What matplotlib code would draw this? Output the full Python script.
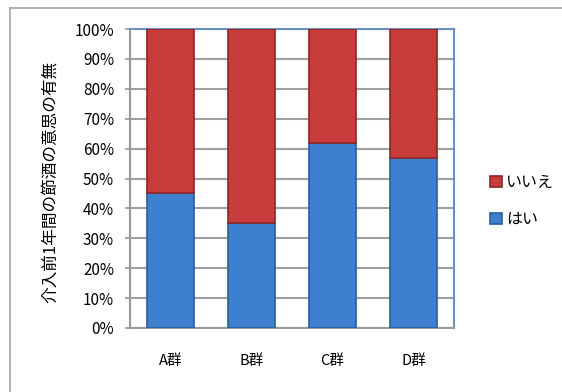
import matplotlib.pyplot as plt
from matplotlib.lines import Line2D

plt.rcParams['font.family'] = ['Noto Sans CJK JP', 'DejaVu Sans']

groups = ['A群', 'B群', 'C群', 'D群']
hai = [45, 35, 62, 57]
iie = [55, 65, 38, 43]
yticks = [0, 10, 20, 30, 40, 50, 60, 70, 80, 90, 100]

blue = '#3f7fcf'
red = '#c83c3c'

fig = plt.figure(figsize=(5.62, 3.92), dpi=100)
ax = fig.add_axes([130 / 562, 1 - 328 / 392, 324 / 562, 299 / 392])

# 外枠
fig.add_artist(Line2D([10 / 562, 10 / 562], [0, 1 - 8 / 392], color='#a6a6a6', lw=1.2))
fig.add_artist(Line2D([10 / 562, 1], [1 - 8 / 392, 1 - 8 / 392], color='#a6a6a6', lw=1.2))

x = range(len(groups))
ax.bar(x, hai, width=0.58, color=blue, edgecolor='#2a5d9e', linewidth=1.2, label='はい', zorder=3)
ax.bar(x, iie, width=0.58, bottom=hai, color=red, edgecolor='#8e2626', linewidth=1.2, label='いいえ', zorder=3)

ax.set_xlim(-0.5, len(groups) - 0.5)
ax.set_ylim(0, 100)
ax.set_yticks(yticks)
ax.set_yticklabels([f'{v}%' for v in yticks], fontsize=11)
ax.set_xticks(list(x))
ax.set_xticklabels(groups, fontsize=10.5)
ax.tick_params(axis='x', length=0, pad=19)
ax.tick_params(axis='y', length=3.5, width=1.2, color='#999999', pad=8, direction='out')
ax.yaxis.grid(True, color='#a0a0a0', linewidth=1.5, zorder=0)
ax.set_axisbelow(True)

ax.spines['left'].set_color('#999999')
ax.spines['left'].set_linewidth(1.5)
ax.spines['bottom'].set_color('#999999')
ax.spines['bottom'].set_linewidth(1.5)
ax.spines['top'].set_color('#6a8fc0')
ax.spines['top'].set_linewidth(1.5)
ax.spines['right'].set_color('#6a8fc0')
ax.spines['right'].set_linewidth(1.5)

fig.text(50 / 562, 1 - 182 / 392, '介入前1年間の節酒の意思の有無', rotation=90,
         ha='center', va='center', fontsize=12)

handles, labels = ax.get_legend_handles_labels()
ax.legend(handles[::-1], labels[::-1], loc='center left', bbox_to_anchor=(476 / 562, 1 - 201 / 392),
          bbox_transform=fig.transFigure, frameon=False, fontsize=11.5,
          handlelength=0.7, handleheight=0.7, handletextpad=0.3, labelspacing=1.25)

fig.savefig('out.png', dpi=100)
